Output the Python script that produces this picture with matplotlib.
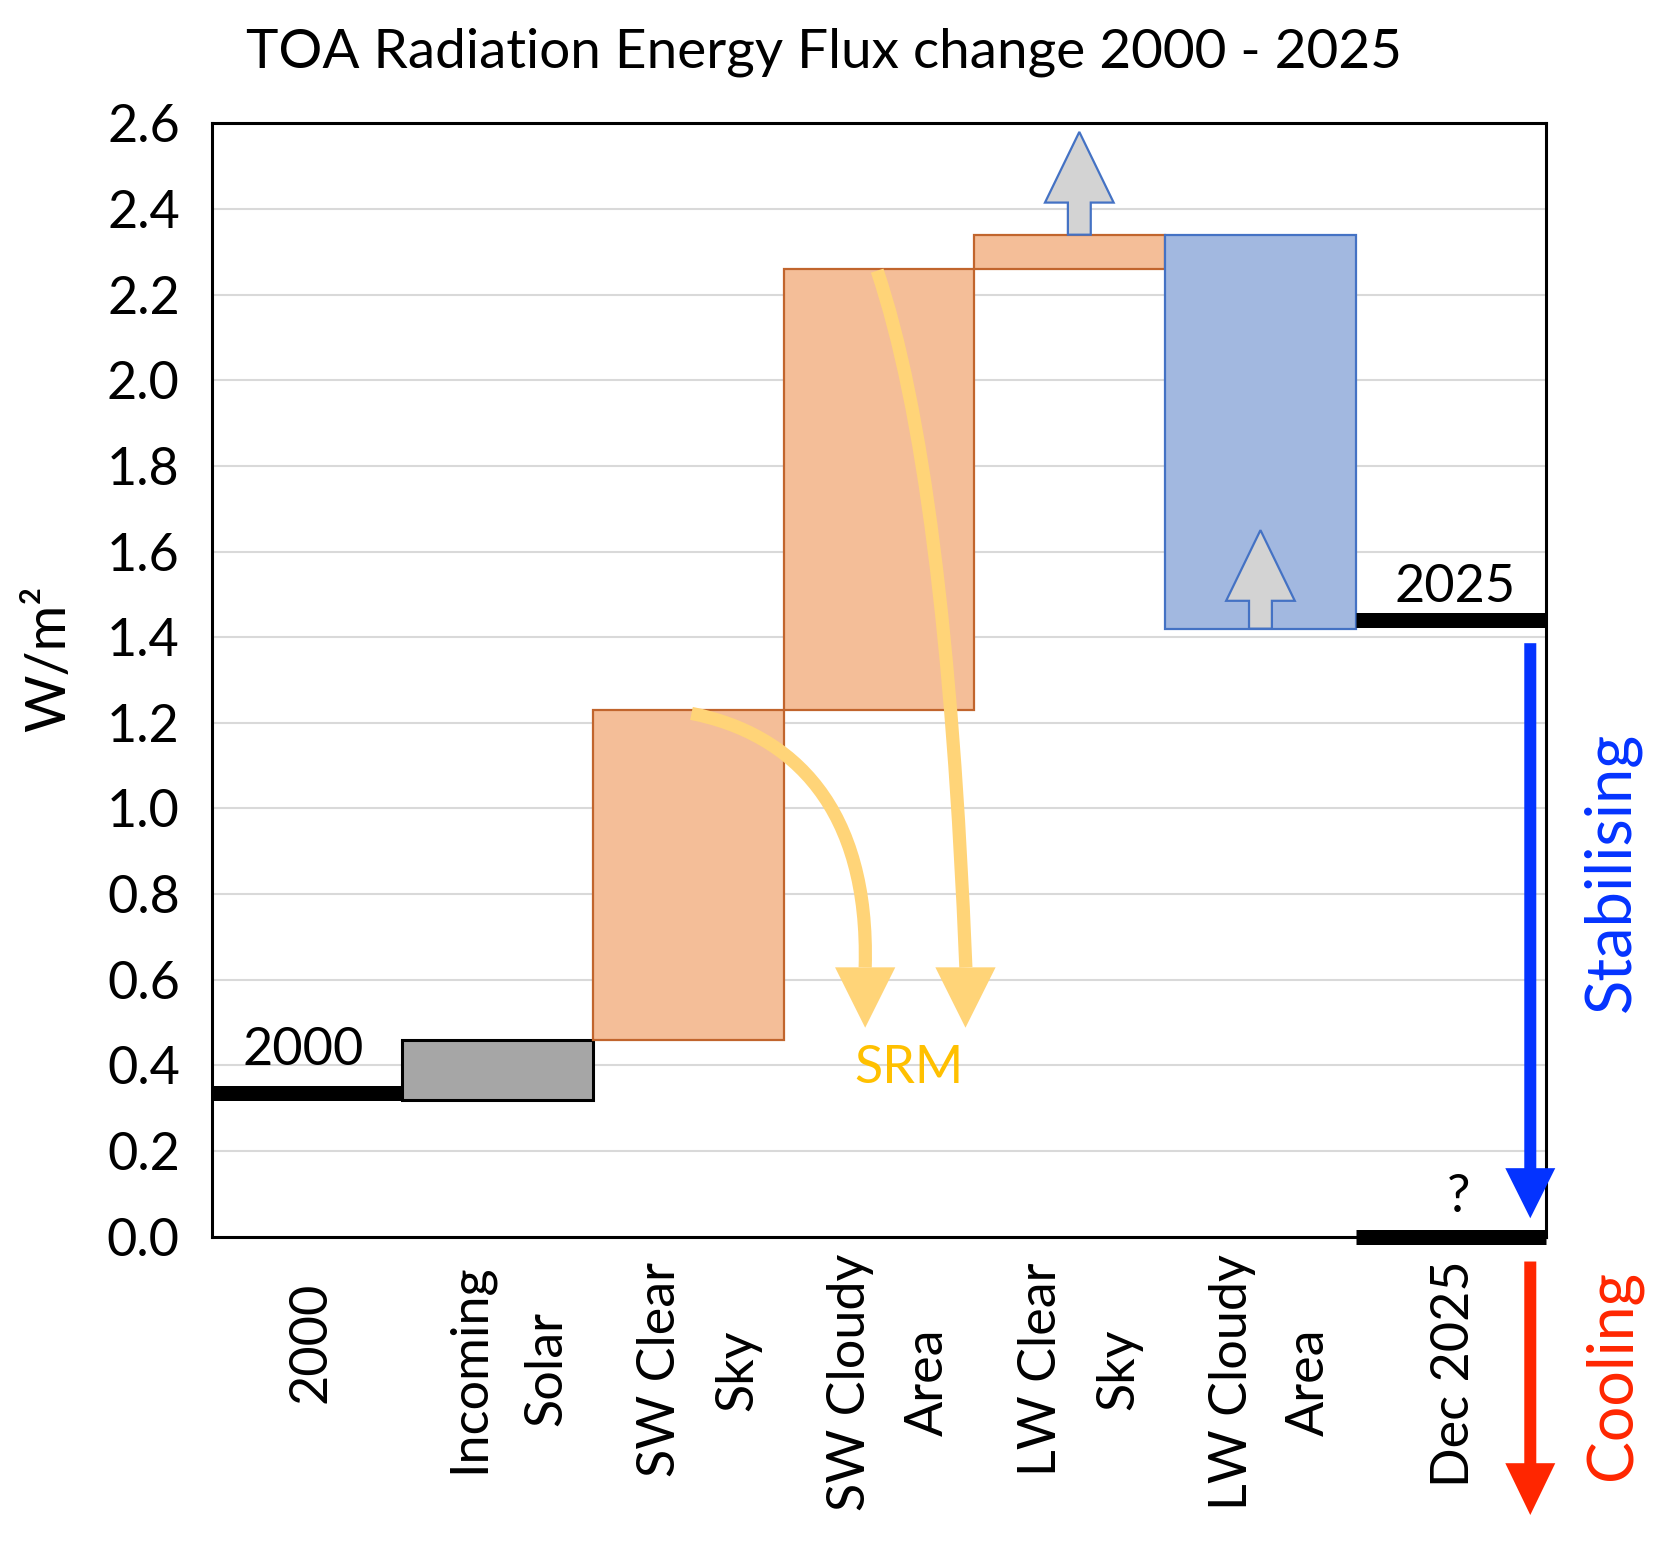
import matplotlib
matplotlib.use("Agg")
import matplotlib.pyplot as plt
import matplotlib.transforms as mtransforms
from matplotlib.path import Path
from matplotlib.patches import PathPatch, Polygon

plt.rcParams['font.family'] = ['Lato', 'DejaVu Sans']

# waterfall data (W/m2)
categories = ['2000', 'Incoming\nSolar', 'SW Clear\nSky', 'SW Cloudy\nArea',
              'LW Clear\nSky', 'LW Cloudy\nArea', 'Dec 2025']
start_level = 0.32
deltas = [0.14, 0.77, 1.03, 0.08, -0.92]   # Incoming Solar .. LW Cloudy Area
delta_colors = ['#A6A6A6', '#F4BE98', '#F4BE98', '#F4BE98', '#A2B8E0']
delta_edges = ['black', '#C1652D', '#C1652D', '#C1652D', '#4472C4']

# level markers (thick black lines): 2000, 2025, Dec 2025
marker_x = [0, 6, 6]
marker_y = [0.335, 1.44, 0.0]
marker_text = ['2000', '2025', '?']

yticks = [0.0, 0.2, 0.4, 0.6, 0.8, 1.0, 1.2, 1.4, 1.6, 1.8, 2.0, 2.2, 2.4, 2.6]

W, H = 1654, 1542
fig = plt.figure(figsize=(W / 100, H / 100), dpi=100)
ax = fig.add_axes([0.128, 0.198, 0.807, 0.722])

# floating bars
level = start_level
for i, d in enumerate(deltas):
    bottom = level if d >= 0 else level + d
    lw = 2.2 if i == 0 else 1.6
    ax.bar(i + 1, abs(d), bottom=bottom, width=1.0, color=delta_colors[i],
           edgecolor=delta_edges[i], linewidth=lw, zorder=2)
    level += d

ax.hlines(marker_y, [x - 0.5 for x in marker_x], [x + 0.5 for x in marker_x],
          colors='black', linewidth=10.8, capstyle='butt', zorder=3, clip_on=False)

ax.text(-0.02, 0.401, marker_text[0], ha='center', va='baseline', fontsize=37.5)
ax.text(6.02, 1.483, marker_text[1], ha='center', va='baseline', fontsize=37.5)
ax.text(6.04, 0.058, marker_text[2], ha='center', va='baseline', fontsize=37.5)

# grey "increase" arrows
for ax_x, y0, y1 in [(4.05, 2.34, 2.58), (5.0, 1.42, 1.65)]:
    ax.arrow(ax_x, y0, 0, y1 - y0, width=0.12, head_width=0.36,
             head_length=0.165, length_includes_head=True,
             facecolor='#D3D3D3', edgecolor='#4472C4', linewidth=1.6, zorder=4)

# SRM curved arrows
srm_color = '#FFD478'
p1 = Path([(2.016, 1.222), (2.55, 1.175), (2.95, 1.0), (2.927, 0.629)],
          [Path.MOVETO, Path.CURVE4, Path.CURVE4, Path.CURVE4])
p2 = Path([(2.990, 2.256), (3.351, 1.780), (3.455, 0.629)],
          [Path.MOVETO, Path.CURVE3, Path.CURVE3])
for p in (p1, p2):
    ax.add_patch(PathPatch(p, facecolor='none', edgecolor=srm_color,
                           linewidth=9.5, capstyle='butt', zorder=5))
for cx in (2.927, 3.453):
    ax.add_patch(Polygon([(cx - 0.158, 0.629), (cx + 0.158, 0.629), (cx, 0.488)],
                         closed=True, facecolor=srm_color, edgecolor='none', zorder=5))
ax.text(3.155, 0.359, 'SRM', color='#FFC000', ha='center', va='baseline', fontsize=37.5)

# stabilising / cooling arrows
ax.arrow(6.415, 1.386, 0, 0.043 - 1.386, width=0.063, head_width=0.262,
         head_length=0.117, length_includes_head=True, color='#0433FF',
         linewidth=0, zorder=6, clip_on=False)
ax.arrow(6.415, -0.058, 0, -0.65 + 0.058, width=0.063, head_width=0.262,
         head_length=0.121, length_includes_head=True, color='#FF2600',
         linewidth=0, zorder=6, clip_on=False)
ax.text(6.84, 0.851, 'Stabilising', color='#0433FF', rotation=90,
        ha='center', va='center', fontsize=45.5, clip_on=False)
ax.text(6.846, -0.323, 'Cooling', color='#FF2600', rotation=90,
        ha='center', va='center', fontsize=45, clip_on=False)

# axes styling
ax.set_xlim(-0.5, 6.5)
ax.set_ylim(0, 2.6)
ax.set_yticks(yticks)
ax.set_yticklabels([f'{v:.1f}' for v in yticks])
ax.set_xticks(range(len(categories)))
ax.set_xticklabels([])
ax.tick_params(axis='both', length=0, labelsize=37.5)
ax.tick_params(axis='y', pad=23)
ax.yaxis.grid(True, color='#D9D9D9', linewidth=1.5)
ax.set_axisbelow(True)
for s in ax.spines.values():
    s.set_linewidth(2.2)
    s.set_color('black')

# category labels, placed the way the spreadsheet staggers rotated labels
trans = mtransforms.blended_transform_factory(ax.transData, ax.transAxes)
cat_texts = []
for i, lab in enumerate(categories):
    shift = 0.055 if '\n' in lab else 0.02
    cat_texts.append(ax.text(i + shift, 0, lab, transform=trans, rotation=90,
                             ha='center', va='top', multialignment='center',
                             linespacing=1.8, fontsize=37.5, clip_on=False))
fig.canvas.draw()
renderer = fig.canvas.get_renderer()
for t in cat_texts:
    h = t.get_window_extent(renderer).height
    top_disp = H - (1307 - 0.207 * h)
    t.set_y(ax.transAxes.inverted().transform((0, top_disp))[1])

fig.text(0.030, 0.573, 'W/m²', rotation=90, ha='center', va='center', fontsize=40)
fig.text(0.498, 0.956, 'TOA Radiation Energy Flux change 2000 - 2025',
         ha='center', va='baseline', fontsize=39.5)

fig.savefig('out.png', dpi=100)
